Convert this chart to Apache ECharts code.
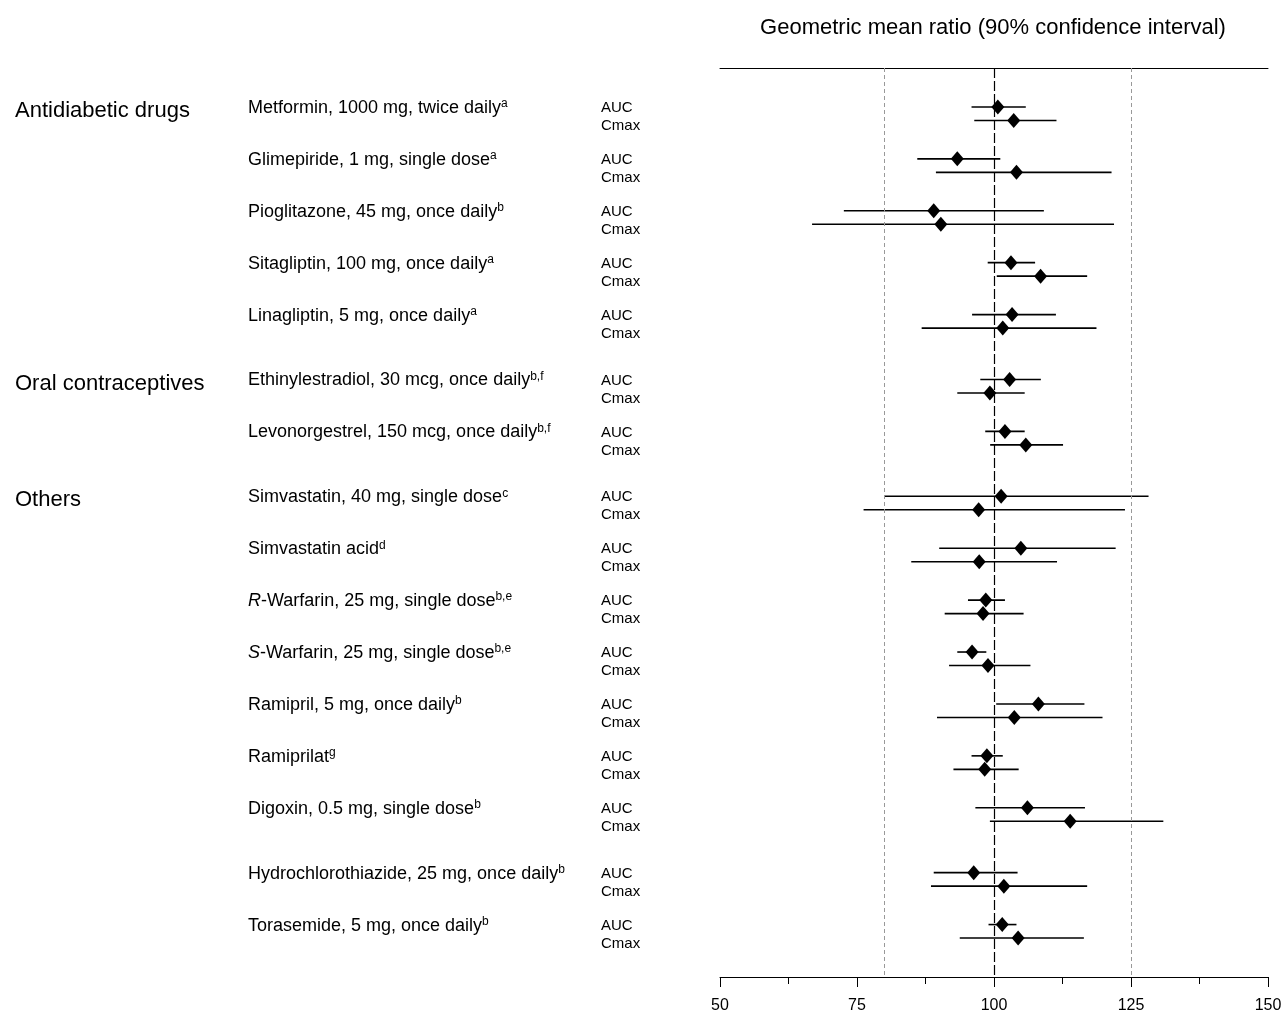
<!DOCTYPE html>
<html><head><meta charset="utf-8">
<script src="https://cdn.jsdelivr.net/npm/echarts@6/dist/echarts.min.js"></script>
<style>html,body{margin:0;padding:0;background:#fff}#c{width:1284px;height:1017px}</style>
</head><body><div id="c"></div>
<script>
// ---------------- data ----------------
const titleText = 'Geometric mean ratio (90% confidence interval)';
const groupNames = ['Antidiabetic drugs', 'Oral contraceptives', 'Others'];
const groupStartRow = [0, 5, 7];
const drugNames = [
  'Metformin, 1000 mg, twice daily',
  'Glimepiride, 1 mg, single dose',
  'Pioglitazone, 45 mg, once daily',
  'Sitagliptin, 100 mg, once daily',
  'Linagliptin, 5 mg, once daily',
  'Ethinylestradiol, 30 mcg, once daily',
  'Levonorgestrel, 150 mcg, once daily',
  'Simvastatin, 40 mg, single dose',
  'Simvastatin acid',
  '{it|R}-Warfarin, 25 mg, single dose',
  '{it|S}-Warfarin, 25 mg, single dose',
  'Ramipril, 5 mg, once daily',
  'Ramiprilat',
  'Digoxin, 0.5 mg, single dose',
  'Hydrochlorothiazide, 25 mg, once daily',
  'Torasemide, 5 mg, once daily'
];
const drugNotes = ['a','a','b','a','a','b,f','b,f','c','d','b,e','b,e','b','g','b','b','b'];
const measureLabels = ['AUC', 'Cmax'];

const aucPt  = [100.7, 93.3, 89.0, 103.1, 103.3, 102.85, 102.0, 101.3, 104.9, 98.5, 96.0, 108.1, 98.7, 106.1, 96.3, 101.5];
const aucLo  = [95.9, 86.0, 72.6, 98.85, 96.0, 97.5, 98.4, 80.0, 90.0, 95.25, 93.3, 100.4, 95.9, 96.6, 89.0, 99.0];
const aucHi  = [105.8, 101.15, 109.1, 107.5, 111.3, 108.55, 105.6, 128.2, 122.2, 102.0, 98.6, 116.5, 101.6, 116.6, 104.3, 104.1];
const cmaxPt = [103.6, 104.1, 90.3, 108.5, 101.6, 99.25, 105.8, 97.2, 97.3, 98.0, 98.9, 103.7, 98.3, 113.9, 101.8, 104.4];
const cmaxLo = [96.4, 89.4, 66.8, 100.5, 86.8, 93.3, 99.3, 76.2, 84.9, 91.0, 91.8, 89.6, 92.6, 99.25, 88.5, 93.75];
const cmaxHi = [111.4, 121.45, 121.9, 117.0, 118.7, 105.6, 112.6, 123.9, 111.5, 105.4, 106.65, 119.8, 104.5, 130.9, 117.0, 116.4];

const xTicks = [50, 75, 100, 125, 150];
const refLines = [80, 100, 125];

// ---------------- layout ----------------
const gapBefore = [5, 7, 14];            // rows preceded by an extra quarter-row gap
const rowSlot = drugNames.map((_, i) => i + 0.25 * gapBefore.filter(g => g <= i).length);
const cmaxShift = 0.26;
const FONT = '"Liberation Sans", Arial, Helvetica, sans-serif';

const ciData = [], ptData = [];
rowSlot.forEach((s, i) => {
  ciData.push([aucLo[i], aucHi[i], s]);
  ciData.push([cmaxLo[i], cmaxHi[i], s + cmaxShift]);
  ptData.push([aucPt[i], s]);
  ptData.push([cmaxPt[i], s + cmaxShift]);
});
const labelData = rowSlot.map((s, i) => [xTicks[0], s, i]);

const chart = echarts.init(document.getElementById('c'), null, {renderer: 'canvas'});

const xBase = {
  type: 'value', min: xTicks[0], max: xTicks[xTicks.length - 1], interval: xTicks[1] - xTicks[0],
  splitLine: {show: false}
};

chart.setOption({
  animation: false,
  backgroundColor: '#fff',
  title: {
    text: titleText, left: 988, top: 12, textAlign: 'center',
    textStyle: {fontSize: 22, fontWeight: 'normal', fontFamily: FONT, color: '#000'}
  },
  grid: {left: 720, right: 16, top: 68, bottom: 40, containLabel: false, outerBoundsMode: 'none'},
  xAxis: [
    Object.assign({}, xBase, {
      position: 'bottom',
      axisLine: {show: true, onZero: false, lineStyle: {color: '#000', width: 1}},
      axisTick: {show: true, length: 10, lineStyle: {color: '#000', width: 1}},
      minorTick: {show: true, splitNumber: 2, length: 7, lineStyle: {color: '#000', width: 1}},
      axisLabel: {fontSize: 16, color: '#000', margin: 21, fontFamily: FONT}
    }),
    Object.assign({}, xBase, {
      position: 'top',
      axisLine: {show: true, onZero: false, lineStyle: {color: '#000', width: 1}},
      axisTick: {show: false}, minorTick: {show: false}, axisLabel: {show: false}
    })
  ],
  yAxis: {type: 'value', inverse: true, min: -0.75, max: 16.76, show: false},
  series: [
    {
      type: 'custom', name: 'ci', xAxisIndex: 0, yAxisIndex: 0,
      encode: {x: [0, 1], y: 2},
      renderItem: (params, api) => {
        const a = api.coord([api.value(0), api.value(2)]);
        const b = api.coord([api.value(1), api.value(2)]);
        return {type: 'line', shape: {x1: a[0], y1: a[1], x2: b[0], y2: b[1]},
                style: {stroke: '#000', lineWidth: 1.6}};
      },
      data: ciData, z: 3
    },
    {
      type: 'scatter', name: 'gmr', symbol: 'diamond', symbolSize: [13, 15],
      itemStyle: {color: '#000', opacity: 1}, data: ptData, z: 4,
      markLine: {
        silent: true, symbol: ['none', 'none'], label: {show: false},
        data: refLines.map(v => ({
          xAxis: v,
          lineStyle: v === 100 ? {color: '#000', width: 1.2, type: [10, 3]}
                               : {color: '#999', width: 1, type: [4, 3]}
        }))
      }
    },
    {
      type: 'custom', name: 'labels', clip: false, silent: true,
      encode: {x: 0, y: 1},
      renderItem: (params, api) => {
        const i = api.value(2);
        const y = api.coord([xTicks[0], api.value(1)])[1];
        const children = [
          {type: 'text', x: 248, y: y + 1, style: {
            text: drugNames[i] + '{sup|' + drugNotes[i] + '}',
            fill: '#000', fontSize: 18, fontFamily: FONT, lineHeight: 20,
            verticalAlign: 'middle', align: 'left',
            rich: {
              sup: {fontSize: 12, fontFamily: FONT, lineHeight: 10, verticalAlign: 'top', fill: '#000'},
              it: {fontSize: 18, fontFamily: FONT, fontStyle: 'italic', lineHeight: 20, fill: '#000'}
            }}},
          {type: 'text', x: 601, y: y + 1, style: {text: measureLabels[0], fill: '#000', fontSize: 15, fontFamily: FONT, verticalAlign: 'middle'}},
          {type: 'text', x: 601, y: y + 19, style: {text: measureLabels[1], fill: '#000', fontSize: 15, fontFamily: FONT, verticalAlign: 'middle'}}
        ];
        const g = groupStartRow.indexOf(i);
        if (g >= 0) {
          children.push({type: 'text', x: 15, y: y + 4, style: {text: groupNames[g], fill: '#000', fontSize: 22, fontFamily: FONT, verticalAlign: 'middle'}});
        }
        return {type: 'group', children};
      },
      data: labelData, z: 5
    }
  ]
});
</script>
</body></html>
